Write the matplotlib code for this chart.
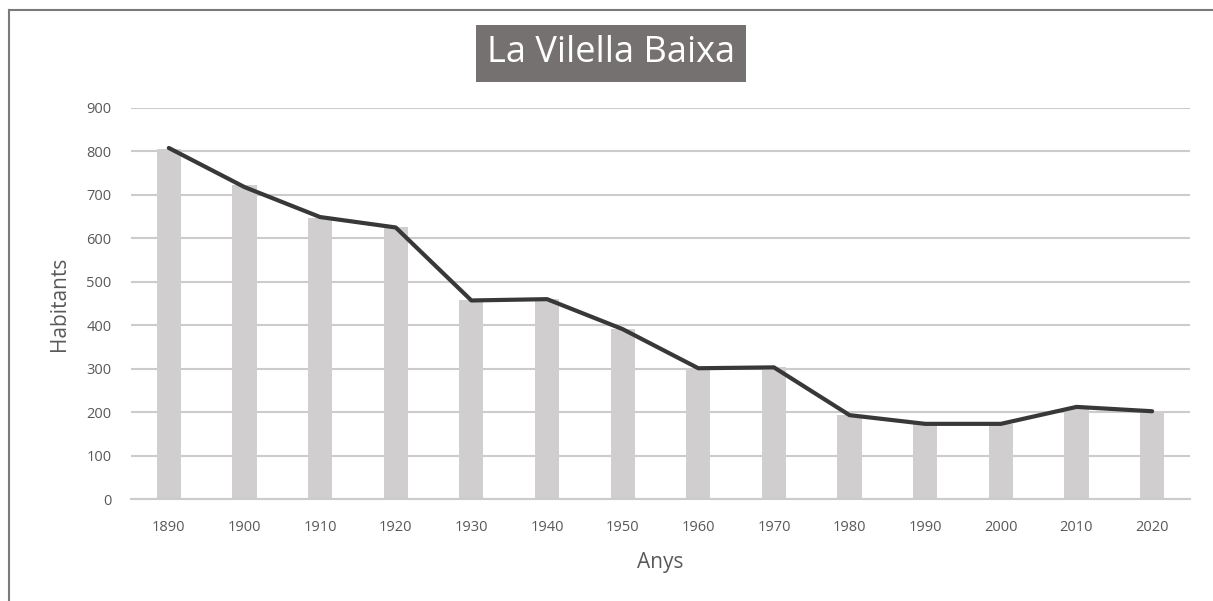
import matplotlib
matplotlib.use("Agg")
import matplotlib.pyplot as plt
import numpy as np
from matplotlib.lines import Line2D

years = ["1890", "1900", "1910", "1920", "1930", "1940", "1950",
         "1960", "1970", "1980", "1990", "2000", "2010", "2020"]
bar_values = [806, 722, 647, 625, 457, 460, 391, 301, 303, 193, 173, 173, 210, 202]
line_values = [808, 718, 649, 625, 457, 460, 391, 301, 303, 193, 173, 173, 212, 202]
yticks = [0, 100, 200, 300, 400, 500, 600, 700, 800, 900]

plt.rcParams["font.family"] = ["Open Sans", "DejaVu Sans"]

fig = plt.figure(figsize=(12.13, 6.01), dpi=100)
ax = fig.add_axes([0.108, 0.1697, 0.873, 0.6506])

x = np.arange(len(years))
ax.bar(x, bar_values, width=0.32, color="#d0cece", zorder=2)
ax.plot(x, line_values, color="#383838", lw=3, solid_joinstyle="round",
        solid_capstyle="round", zorder=3)

ax.set_xlim(-0.5, len(years) - 0.5)
ax.set_ylim(0, 900)
ax.set_yticks(yticks)
ax.set_xticks(x)
ax.set_xticklabels(years)
ax.grid(True, axis="y", color="#cccccc", lw=1.5, zorder=0)
ax.set_axisbelow(True)
for s in ["top", "right", "left"]:
    ax.spines[s].set_visible(False)
ax.spines["bottom"].set_color("#cccccc")
ax.spines["bottom"].set_linewidth(1.5)
ax.tick_params(length=0, colors="#595959", labelsize=10.5)
ax.tick_params(axis="x", pad=15)
ax.tick_params(axis="y", pad=14)

ax.set_ylabel("Habitants", fontsize=15, color="#595959", labelpad=12)
ax.set_xlabel("Anys", fontsize=15, color="#595959", labelpad=12)

fig.text(0.5035, 0.911, "La Vilella Baixa", ha="center", va="center",
         fontsize=26, color="white",
         bbox=dict(boxstyle="square,pad=0.3", fc="#767171", ec="none"))

# partial outer frame (top and left edges only)
fig.add_artist(Line2D([0.0074, 1.0], [0.983, 0.983], transform=fig.transFigure,
                      color="#7a7a7a", lw=1.5))
fig.add_artist(Line2D([0.0074, 0.0074], [0.0, 0.983], transform=fig.transFigure,
                      color="#7a7a7a", lw=1.5))

fig.savefig("out.png", dpi=100)
